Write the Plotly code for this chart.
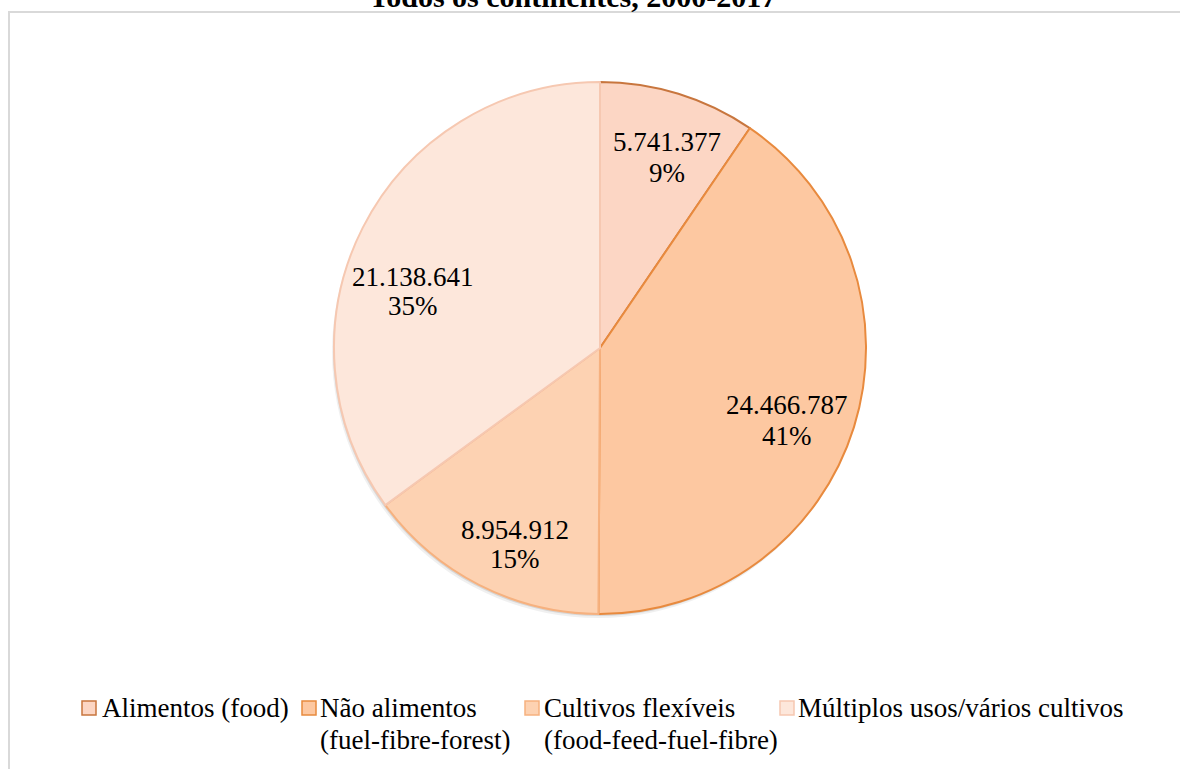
import plotly.graph_objects as go

categories = ["Alimentos (food)", "Não alimentos<br>(fuel-fibre-forest)",
              "Cultivos flexíveis<br>(food-feed-fuel-fibre)", "Múltiplos usos/vários cultivos"]
values = [5741377, 24466787, 8954912, 21138641]
percent_labels = ["9%", "41%", "15%", "35%"]
title_text = "Todos os continentes, 2000-2017"

fill_colors = ["#FCD6C4", "#FDC8A1", "#FDD2B2", "#FDE7DB"]
line_colors = ["#C8763E", "#E88A3E", "#F6B17F", "#F6C8B1"]

FONT = "Liberation Serif"
W, H = 1180, 769
cx, cy, R = 600, 348, 266
# label line centres (pixels): (x, y first line, y second line)
label_pos = [(667, 142, 173), (787, 405, 436), (515, 530, 559), (413, 277, 306)]
# legend layout (pixels): marker left x, text left x
legend_x = [(82, 100), (302, 318), (525, 542), (780, 796)]
legend_line_y = [708, 740]


def fmt(v):
    return f"{v:,}".replace(",", ".")


def px(x):
    return x / W


def py(y):
    return 1 - y / H


fig = go.Figure()
# soft drop shadow
for off, alpha in [(4, 0.06), (2, 0.10)]:
    fig.add_trace(go.Pie(
        values=[sum(values)], labels=["shadow"], sort=False, textinfo="none",
        marker=dict(colors=[f"rgba(0,0,0,{alpha})"], line=dict(width=0)),
        domain=dict(x=[px(cx - R - off / 2), px(cx + R - off / 2)],
                    y=[py(cy + R + off), py(cy - R + off)]),
        hoverinfo="skip", showlegend=False,
    ))
fig.add_trace(go.Pie(
    labels=categories,
    values=values,
    sort=False,
    direction="clockwise",
    rotation=0,
    textinfo="none",
    marker=dict(colors=fill_colors, line=dict(color=line_colors, width=2)),
    domain=dict(x=[px(cx - R), px(cx + R)], y=[py(cy + R), py(cy - R)]),
    hoverinfo="label+value+percent",
    showlegend=False,
))

annotations = []
shapes = []
for v, p, (lx, y1, y2) in zip(values, percent_labels, label_pos):
    for txt, yy in [(fmt(v), y1), (p, y2)]:
        annotations.append(dict(
            x=px(lx), y=py(yy), xref="paper", yref="paper",
            text=txt, showarrow=False,
            font=dict(family=FONT, size=27, color="#000000"),
            xanchor="center", yanchor="middle",
        ))

# legend drawn manually to match the reference spacing
for cat, fc, lc, (mx, tx) in zip(categories, fill_colors, line_colors, legend_x):
    shapes.append(dict(type="rect", xref="paper", yref="paper",
                       x0=px(mx), x1=px(mx + 14), y0=py(legend_line_y[0] + 7), y1=py(legend_line_y[0] - 7),
                       fillcolor=fc, line=dict(color=lc, width=1.5)))
    for line, yy in zip(cat.split("<br>"), legend_line_y):
        annotations.append(dict(
            x=px(tx), y=py(yy), xref="paper", yref="paper",
            text=line, showarrow=False,
            font=dict(family=FONT, size=27, color="#000000"),
            xanchor="left", yanchor="middle",
        ))

annotations.append(dict(
    x=px(572), y=py(15), xref="paper", yref="paper",
    text=f"<b>{title_text}</b>", showarrow=False,
    font=dict(family=FONT, size=30, color="#000000"),
    xanchor="center", yanchor="bottom",
))

shapes.append(dict(type="rect", xref="paper", yref="paper",
                   x0=px(9), x1=1.05, y0=-0.05, y1=py(12),
                   line=dict(color="#D9D9D9", width=2), fillcolor="rgba(0,0,0,0)", layer="below"))

fig.update_layout(
    width=W, height=H,
    margin=dict(l=0, r=0, t=0, b=0),
    paper_bgcolor="white",
    plot_bgcolor="white",
    showlegend=False,
    annotations=annotations,
    shapes=shapes,
)

fig.write_html("out.html")
